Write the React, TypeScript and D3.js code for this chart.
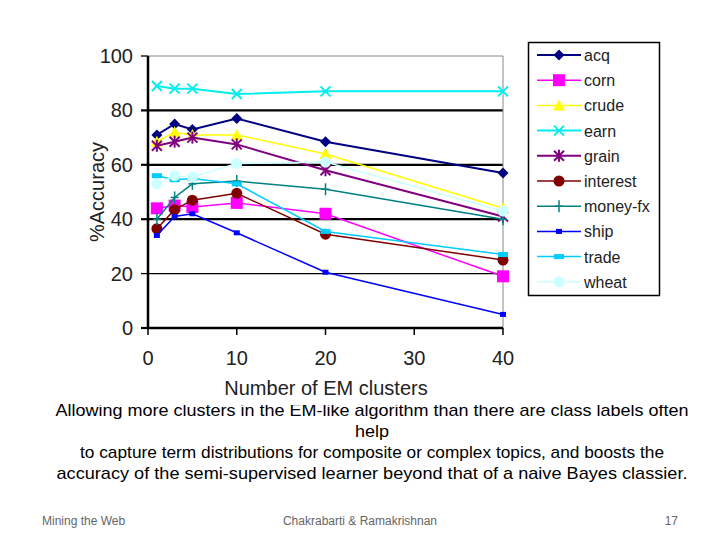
import React from "react";
import * as d3 from "d3";

const clusters = [1, 3, 5, 10, 20, 40];
const seriesNames = ["acq", "corn", "crude", "earn", "grain", "interest", "money-fx", "ship", "trade", "wheat"];
const acq = [71, 75, 73, 77, 68.5, 57];
const corn = [44, 45, 44.5, 46, 42, 19];
const crude = [68.5, 72, 71, 71, 64, 44];
const earn = [89, 88, 88, 86, 87, 87];
const grain = [67, 68.5, 70, 67.5, 58, 41];
const interest = [36.5, 43.5, 47, 49.5, 34.5, 25];
const moneyFx = [40, 48, 53, 54, 51, 40];
const ship = [34, 41, 42, 35, 20.5, 5];
const trade = [56, 54.5, 55, 53, 35.5, 27];
const wheat = [53, 56, 55.5, 60.5, 61, 43];
const seriesValues = [acq, corn, crude, earn, grain, interest, moneyFx, ship, trade, wheat];
const colors = ["#000080", "#FF00FF", "#FFFF00", "#00EEEE", "#800080", "#800000", "#008080", "#0000FF", "#00CCFF", "#CCFFFF"];
const markers = ["diamond", "square", "triangle", "x", "asterisk", "circle", "plus", "smallsquare", "dash", "circle"];
const lineWidths = [2, 1.5, 1.5, 2, 2, 1.5, 1.5, 1.5, 1.5, 1.5];
const xTicks = [0, 10, 20, 30, 40];
const yTicks = [0, 20, 40, 60, 80, 100];
const caption = [
  "Allowing more clusters in the EM-like algorithm than there are class labels often",
  "help",
  "to capture term distributions for composite or complex topics, and boosts the",
  "accuracy of the semi-supervised  learner beyond that of a naive Bayes classier.",
];
const captionWidths = [633, 34, 584, 631];

const FONT = "Liberation Sans, Arial, sans-serif";

function Marker({ type, x, y, color }: { type: string; x: number; y: number; color: string }) {
  switch (type) {
    case "diamond":
      return <path d={`M${x},${y - 5.5}L${x + 5.5},${y}L${x},${y + 5.5}L${x - 5.5},${y}Z`} fill={color} />;
    case "square":
      return <rect x={x - 6} y={y - 6} width={12} height={12} fill={color} />;
    case "triangle":
      return <path d={`M${x},${y - 6}L${x + 6},${y + 5}L${x - 6},${y + 5}Z`} fill={color} />;
    case "x":
      return (
        <g stroke={color} strokeWidth={2}>
          <line x1={x - 5} y1={y - 5} x2={x + 5} y2={y + 5} />
          <line x1={x - 5} y1={y + 5} x2={x + 5} y2={y - 5} />
        </g>
      );
    case "asterisk":
      return (
        <g stroke={color} strokeWidth={2}>
          <line x1={x - 5} y1={y - 5} x2={x + 5} y2={y + 5} />
          <line x1={x - 5} y1={y + 5} x2={x + 5} y2={y - 5} />
          <line x1={x} y1={y - 6} x2={x} y2={y + 6} />
        </g>
      );
    case "circle":
      return <circle cx={x} cy={y} r={5.5} fill={color} />;
    case "plus":
      return (
        <g stroke={color} strokeWidth={1.5}>
          <line x1={x} y1={y - 6} x2={x} y2={y + 6} />
          <line x1={x - 4} y1={y} x2={x + 4} y2={y} />
        </g>
      );
    case "smallsquare":
      return <rect x={x - 3} y={y - 2.5} width={6} height={5} fill={color} />;
    case "dash":
      return <rect x={x - 5} y={y - 2.5} width={10} height={5} fill={color} />;
    default:
      return null;
  }
}

export default function App() {
  const x = d3.scaleLinear().domain([0, 40]).range([148, 503]);
  const y = d3.scaleLinear().domain([0, 100]).range([328, 56]);
  const line = d3
    .line<[number, number]>()
    .x((d) => x(d[0]))
    .y((d) => y(d[1]));

  return (
    <svg
      width={720}
      height={540}
      style={{ position: "absolute", left: 0, top: 0, background: "#fff" }}
      fontFamily={FONT}
    >
      <rect x={0} y={0} width={720} height={540} fill="#fff" />
      {/* caption */}
      {caption.map((t, i) => (
        <text
          key={i}
          x={372}
          y={416 + i * 21}
          textAnchor="middle"
          fontSize={17}
          fill="#000"
          textLength={captionWidths[i]}
          lengthAdjust="spacingAndGlyphs"
        >
          {t}
        </text>
      ))}
      {/* chart region covers top of caption */}
      <rect x={80} y={0} width={600} height={405} fill="#fff" />
      {/* gridlines */}
      {yTicks
        .filter((t) => t > 0 && t < 100)
        .map((t) => (
          <line key={t} x1={x(0)} x2={x(40)} y1={y(t)} y2={y(t)} stroke="#000" strokeWidth={t === 20 ? 1.3 : 2.2} />
        ))}
      {/* plot border */}
      <line x1={x(0)} x2={x(40)} y1={y(100)} y2={y(100)} stroke="#888" strokeWidth={1} />
      <line x1={x(40)} x2={x(40)} y1={y(100)} y2={y(0)} stroke="#888" strokeWidth={1} />
      {/* series */}
      {seriesValues.map((vals, si) => {
        const pts = clusters.map((c, i) => [c, vals[i]] as [number, number]);
        return (
          <g key={seriesNames[si]}>
            <path d={line(pts) || ""} fill="none" stroke={colors[si]} strokeWidth={lineWidths[si]} />
            {pts.map((p, i) => (
              <Marker key={i} type={markers[si]} x={x(p[0])} y={y(p[1])} color={colors[si]} />
            ))}
          </g>
        );
      })}
      {/* axes */}
      <line x1={x(0)} x2={x(0)} y1={y(100)} y2={y(0) + 1} stroke="#000" strokeWidth={2.5} />
      <line x1={x(0) - 1} x2={x(40)} y1={y(0)} y2={y(0)} stroke="#000" strokeWidth={2.5} />
      {yTicks.map((t) => (
        <g key={t}>
          <line x1={x(0) - 7} x2={x(0)} y1={y(t)} y2={y(t)} stroke="#000" strokeWidth={t === 20 || t === 100 ? 1.3 : 2.2} />
          <text x={133} y={y(t) + 7} textAnchor="end" fontSize={20} fill="#222">
            {t}
          </text>
        </g>
      ))}
      {xTicks.map((t) => (
        <g key={t}>
          <line x1={x(t)} x2={x(t)} y1={y(0)} y2={y(0) + 7} stroke="#000" strokeWidth={1.5} />
          <text x={x(t)} y={365} textAnchor="middle" fontSize={20} fill="#222">
            {t}
          </text>
        </g>
      ))}
      <text x={326} y={395} textAnchor="middle" fontSize={20} fill="#222">
        Number of EM clusters
      </text>
      <text
        transform="translate(104,192) rotate(-90)"
        textAnchor="middle"
        fontSize={20}
        fill="#222"
      >
        %Accuracy
      </text>
      {/* legend */}
      <rect x={528.5} y={42.5} width={131} height={253} fill="#fff" stroke="#000" strokeWidth={1.5} />
      {seriesNames.map((name, i) => {
        const ly = 55 + i * 25.2;
        return (
          <g key={name}>
            <line x1={537} x2={581} y1={ly} y2={ly} stroke={colors[i]} strokeWidth={lineWidths[i]} />
            <Marker type={markers[i]} x={559} y={ly} color={colors[i]} />
            <text x={584} y={ly + 6} fontSize={16} fill="#222">
              {name}
            </text>
          </g>
        );
      })}
      {/* footer */}
      <text x={42} y={525} fontSize={12} fill="#666">
        Mining the Web
      </text>
      <text x={360} y={525} textAnchor="middle" fontSize={12} fill="#666">
        Chakrabarti &amp; Ramakrishnan
      </text>
      <text x={678} y={525} textAnchor="end" fontSize={12} fill="#666">
        17
      </text>
    </svg>
  );
}
